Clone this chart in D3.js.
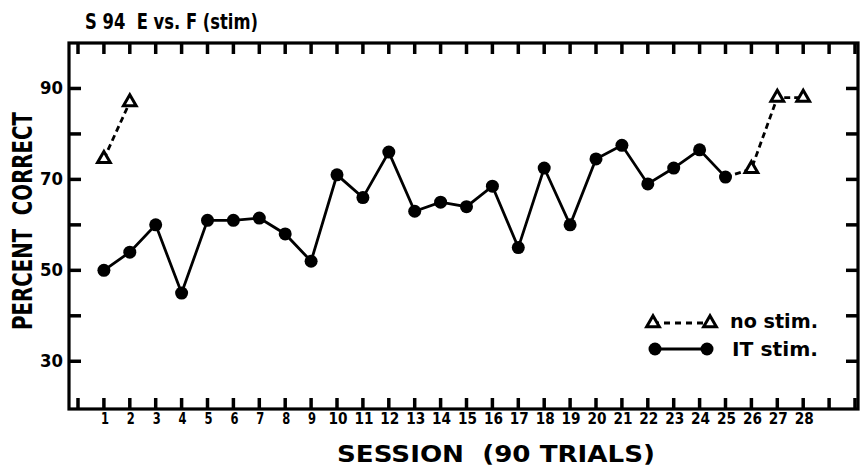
<!DOCTYPE html>
<html>
<head>
<meta charset="utf-8">
<script src="https://cdn.jsdelivr.net/npm/d3@7"></script>
<style>
  body { margin: 0; background: #fff; }
  svg { display: block; font-family: "DejaVu Sans", "Liberation Sans", sans-serif; font-weight: bold; }
</style>
</head>
<body>
<div id="chart"></div>
<script>
// IT stim sessions (solid line, filled dots)
const itSessions = [1, 2, 3, 4, 5, 6, 7, 8, 9, 10, 11, 12, 13, 14, 15, 16, 17, 18, 19, 20, 21, 22, 23, 24, 25];
const itValues = [50, 54, 60, 45, 61, 61, 61.5, 58, 52, 71, 66, 76, 63, 65, 64, 68.5, 55, 72.5, 60, 74.5, 77.5, 69, 72.5, 76.5, 70.5];

// no stim sessions (dashed line, open triangles)
const noStimSessions = [1, 2, 26, 27, 28];
const noStimValues = [74.5, 87, 72.3, 88, 88];

const xTickLabels = d3.range(1, 29);
const yTickLabels = [30, 50, 70, 90];
const yMinorTicks = [40, 60, 80];

const width = 862;
const height = 469;

const x = d3.scaleLinear().domain([0, 30]).range([78, 855]);
const y = d3.scaleLinear().domain([19.5, 100]).range([409, 43]);

const frame = { left: 69, right: 858, top: 43, bottom: 409 };

const svg = d3.select('#chart')
  .append('svg')
  .attr('width', width)
  .attr('height', height);

// frame
svg.append('rect')
  .attr('x', frame.left).attr('y', frame.top)
  .attr('width', frame.right - frame.left)
  .attr('height', frame.bottom - frame.top)
  .attr('fill', 'none').attr('stroke', '#000').attr('stroke-width', 3.2);

const yAll = yTickLabels.concat(yMinorTicks);
const xAll = d3.range(0, 31);

// inward tick marks on all four sides
const ticks = svg.append('g').attr('stroke', '#000').attr('stroke-width', 3.5);
ticks.selectAll('.tl').data(yAll).join('line')
  .attr('x1', frame.left).attr('x2', frame.left + 12)
  .attr('y1', d => y(d)).attr('y2', d => y(d));
ticks.selectAll('.tr').data(yAll).join('line')
  .attr('x1', frame.right).attr('x2', frame.right - 12)
  .attr('y1', d => y(d)).attr('y2', d => y(d));
ticks.selectAll('.tb').data(xAll).join('line')
  .attr('x1', d => x(d)).attr('x2', d => x(d))
  .attr('y1', frame.bottom).attr('y2', frame.bottom - 11);
ticks.selectAll('.tt').data(xAll).join('line')
  .attr('x1', d => x(d)).attr('x2', d => x(d))
  .attr('y1', frame.top).attr('y2', frame.top + 11);

// y labels
svg.append('g').selectAll('text')
  .data(yTickLabels)
  .join('text')
  .attr('x', 63)
  .attr('y', d => y(d) + 6)
  .attr('text-anchor', 'end')
  .attr('font-size', 18)
  .attr('textLength', 23)
  .attr('lengthAdjust', 'spacingAndGlyphs')
  .text(d => d);

// x labels
svg.append('g').selectAll('text')
  .data(xTickLabels)
  .join('text')
  .attr('x', d => x(d) + 1)
  .attr('y', 424)
  .attr('text-anchor', 'middle')
  .attr('font-size', 15)
  .attr('textLength', d => d < 10 ? 8 : 19)
  .attr('lengthAdjust', 'spacingAndGlyphs')
  .text(d => d);

// title and axis titles
svg.append('text')
  .attr('x', 85).attr('y', 29)
  .attr('font-size', 21)
  .attr('textLength', 173)
  .attr('lengthAdjust', 'spacingAndGlyphs')
  .attr('xml:space', 'preserve')
  .text('S 94  E vs. F (stim)');

svg.append('text')
  .attr('x', 496).attr('y', 462)
  .attr('text-anchor', 'middle')
  .attr('font-size', 23)
  .attr('textLength', 318)
  .attr('lengthAdjust', 'spacingAndGlyphs')
  .attr('xml:space', 'preserve')
  .text('SESSION  (90 TRIALS)');

svg.append('text')
  .attr('transform', 'translate(32,221) rotate(-90)')
  .attr('text-anchor', 'middle')
  .attr('font-size', 26)
  .attr('textLength', 218)
  .attr('lengthAdjust', 'spacingAndGlyphs')
  .attr('xml:space', 'preserve')
  .text('PERCENT  CORRECT');

// series
const itData = itSessions.map((s, i) => ({ s, v: itValues[i] }));
const noData = noStimSessions.map((s, i) => ({ s, v: noStimValues[i] }));

const line = d3.line().x(d => x(d.s)).y(d => y(d.v));

svg.append('path')
  .datum(itData)
  .attr('d', line)
  .attr('fill', 'none')
  .attr('stroke', '#000')
  .attr('stroke-width', 2.8);

// dashed no-stim segments; the late run joins on from the last IT session
const runA = noData.filter(d => d.s <= 2);
const runB = [itData[itData.length - 1]].concat(noData.filter(d => d.s >= 26));
[runA, runB].forEach(run => {
  svg.append('path')
    .datum(run)
    .attr('d', line)
    .attr('fill', 'none')
    .attr('stroke', '#000')
    .attr('stroke-width', 2.8)
    .attr('stroke-dasharray', '6,4');
});

svg.append('g').selectAll('circle')
  .data(itData)
  .join('circle')
  .attr('cx', d => x(d.s))
  .attr('cy', d => y(d.v))
  .attr('r', 6.5)
  .attr('fill', '#000');

const tri = d3.symbol().type(d3.symbolTriangle).size(70);
svg.append('g').selectAll('path')
  .data(noData)
  .join('path')
  .attr('transform', d => `translate(${x(d.s)},${y(d.v)})`)
  .attr('d', tri)
  .attr('fill', '#fff')
  .attr('stroke', '#000')
  .attr('stroke-width', 3);

// legend
const legend = svg.append('g');
legend.append('line')
  .attr('x1', 653).attr('x2', 710).attr('y1', 323).attr('y2', 323)
  .attr('stroke', '#000').attr('stroke-width', 2.8).attr('stroke-dasharray', '6,5');
[653, 710].forEach(cx => {
  legend.append('path')
    .attr('transform', `translate(${cx},323)`)
    .attr('d', tri)
    .attr('fill', '#fff').attr('stroke', '#000').attr('stroke-width', 3);
});
legend.append('text')
  .attr('x', 730).attr('y', 328)
  .attr('font-size', 19)
  .attr('textLength', 88)
  .attr('lengthAdjust', 'spacingAndGlyphs')
  .text('no stim.');

legend.append('line')
  .attr('x1', 655).attr('x2', 707).attr('y1', 349).attr('y2', 349)
  .attr('stroke', '#000').attr('stroke-width', 2.8);
[655, 707].forEach(cx => {
  legend.append('circle').attr('cx', cx).attr('cy', 349).attr('r', 6.5).attr('fill', '#000');
});
legend.append('text')
  .attr('x', 732).attr('y', 356)
  .attr('font-size', 19)
  .attr('textLength', 86)
  .attr('lengthAdjust', 'spacingAndGlyphs')
  .text('IT stim.');
</script>
</body>
</html>
